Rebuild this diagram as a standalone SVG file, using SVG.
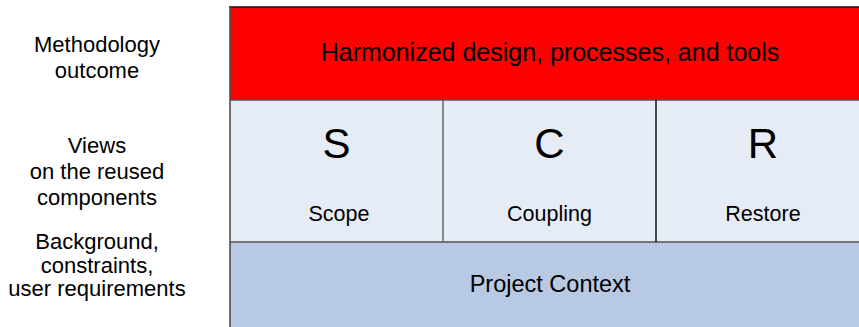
<svg xmlns="http://www.w3.org/2000/svg" width="859" height="327" viewBox="0 0 859 327">
  <style>
    text { font-family: "Liberation Sans", Arial, sans-serif; fill: #000; text-anchor: middle; }
    .side { font-size: 22px; }
    .title { font-size: 25px; }
    .letter { font-size: 42px; }
    .label { font-size: 21.5px; }
    .ctx { font-size: 23.5px; }
    .cell { fill: #e6ecf6; }
  </style>
  <rect width="859" height="327" fill="#ffffff"/>

  <!-- row captions -->
  <g id="caption-outcome">
    <text class="side" x="97" y="52">Methodology</text>
    <text class="side" x="97" y="78">outcome</text>
  </g>
  <g id="caption-views">
    <text class="side" x="97" y="153">Views</text>
    <text class="side" x="97" y="179">on the reused</text>
    <text class="side" x="97" y="205">components</text>
  </g>
  <g id="caption-background">
    <text class="side" x="97" y="249">Background,</text>
    <text class="side" x="97" y="272.5">constraints,</text>
    <text class="side" x="97" y="296">user requirements</text>
  </g>

  <!-- top layer -->
  <g id="outcome">
    <rect x="230" y="7" width="640" height="93" fill="#ff0000"/>
    <text class="title" x="550" y="61">Harmonized design, processes, and tools</text>
  </g>

  <!-- middle layer: the three views -->
  <g id="scope">
    <rect class="cell" x="230" y="100" width="213" height="142"/>
    <text class="letter" x="336.5" y="158">S</text>
    <text class="label" x="339" y="221">Scope</text>
  </g>
  <g id="coupling">
    <rect class="cell" x="443" y="100" width="213" height="142"/>
    <text class="letter" x="549.5" y="158">C</text>
    <text class="label" x="549.5" y="221">Coupling</text>
  </g>
  <g id="restore">
    <rect class="cell" x="656" y="100" width="214" height="142"/>
    <text class="letter" x="763" y="158">R</text>
    <text class="label" x="763" y="221">Restore</text>
  </g>

  <!-- bottom layer -->
  <g id="project-context">
    <rect x="230" y="242" width="640" height="90" fill="#b8c9e3"/>
    <text class="ctx" x="550" y="292">Project Context</text>
  </g>

  <!-- layer borders -->
  <g id="connectors" fill="none" stroke-width="1.5">
    <line x1="229" y1="7" x2="870" y2="7" stroke="#111"/>
    <line x1="230" y1="7" x2="230" y2="327" stroke="#444"/>
    <line x1="230" y1="100" x2="870" y2="100" stroke="#555"/>
    <line x1="230" y1="242" x2="870" y2="242" stroke="#555"/>
    <line x1="443" y1="100" x2="443" y2="242" stroke="#666"/>
    <line x1="656" y1="100" x2="656" y2="242" stroke="#111"/>
  </g>
</svg>
